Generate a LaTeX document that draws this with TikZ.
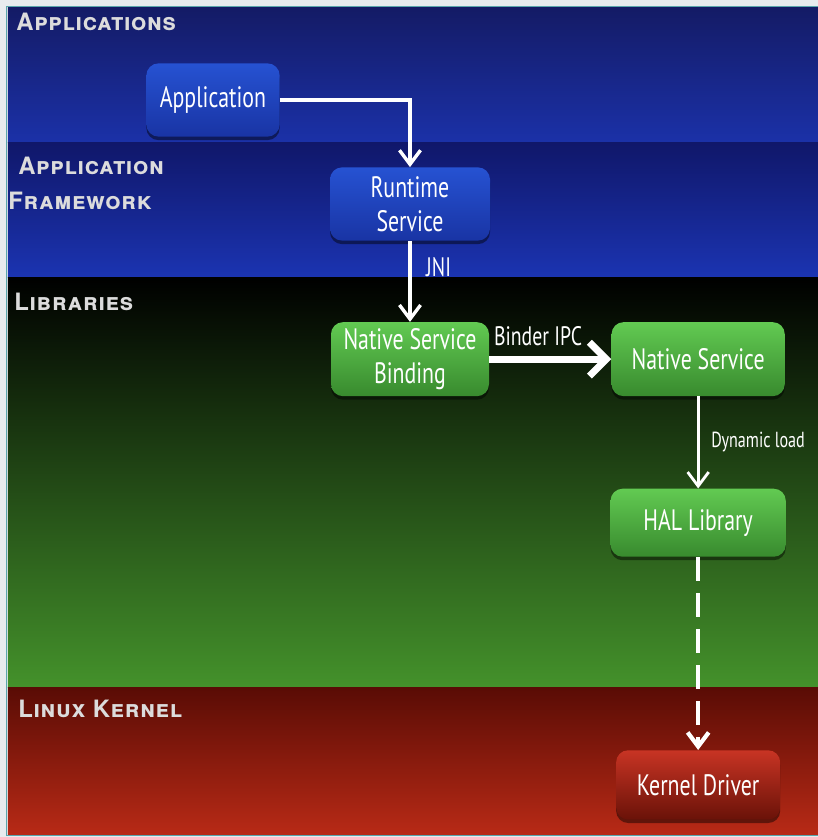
\documentclass[tikz,border=0pt]{standalone}
\usepackage{fontspec}
\setmainfont{PT Sans}
\newfontfamily\boxfont[FakeStretch=0.74]{PT Sans}
\newfontfamily\layerfont[LetterSpace=3]{TeX Gyre Heros}
\usetikzlibrary{arrows.meta,positioning,shadows}

\definecolor{pagegray}{HTML}{E8EBEE}
\definecolor{frameline}{HTML}{5AA6AC}
\definecolor{appTop}{HTML}{141B66}
\definecolor{appBot}{HTML}{1B31A8}
\definecolor{fwTop}{HTML}{10176A}
\definecolor{fwBot}{HTML}{1B34B2}
\definecolor{libMid}{HTML}{1D4612}
\definecolor{libBot}{HTML}{44922B}
\definecolor{kerTop}{HTML}{5A0C05}
\definecolor{kerBot}{HTML}{B82A16}
\definecolor{blueHi}{HTML}{2652D2}
\definecolor{blueLo}{HTML}{1934A4}
\definecolor{greenHi}{HTML}{62CA52}
\definecolor{greenLo}{HTML}{388A2E}
\definecolor{redHi}{HTML}{C83424}
\definecolor{redLo}{HTML}{6A1208}
\definecolor{layertext}{HTML}{DCDCDC}

\begin{document}
\begin{tikzpicture}[>={Straight Barb[length=10pt,width=15pt]}, node distance=2cm,
	box/.style={rounded corners=0.3cm, text=white, align=center, inner sep=2pt,
		font=\boxfont\fontsize{21}{24}\selectfont, minimum height=1.83cm,
		drop shadow={shadow xshift=0pt, shadow yshift=-2.5pt, opacity=0.45, fill=black}},
	bluebox/.style={box, top color=blueHi, bottom color=blueLo},
	greenbox/.style={box, top color=greenHi, bottom color=greenLo, minimum height=1.85cm},
	redbox/.style={box, top color=redHi, bottom color=redLo},
	layer/.style={anchor=north west, inner sep=0pt, align=left, text=layertext,
		font=\layerfont\bfseries\fontsize{17}{25}\selectfont},
	tag/.style={text=white, font=\boxfont\fontsize{19}{21}\selectfont},
	link/.style={draw=white, line width=2.4pt}]
	\useasboundingbox (0,0) rectangle (20.45,20.925);
	\fill[pagegray] (0,0) rectangle (20.45,20.925);
	\draw[frameline, line width=0.8pt] (0.16,0.03) rectangle (20.8,20.76);

	% layer bands
	\shade[top color=appTop, bottom color=appBot] (0.2,17.35) rectangle (20.45,20.725);
	\shade[top color=fwTop, bottom color=fwBot] (0.2,13.975) rectangle (20.45,17.35);
	\shade[top color=black, middle color=libMid, bottom color=libBot] (0.2,3.725) rectangle (20.45,13.975);
	\shade[top color=kerTop, bottom color=kerBot] (0.2,0.06) rectangle (20.45,3.725);

	\node[layer] (lapp) at (0.4,20.6) {\textsc{Applications}};
	\node[layer] (lfw) at (0.2,17.0) {\hspace{0.25cm}\textsc{Application}\\\textsc{Framework}};
	\node[layer] (llib) at (0.35,13.6) {\textsc{Libraries}};
	\node[layer] (lker) at (0.45,3.42) {\textsc{Linux Kernel}};

	% components
	\node[bluebox, minimum width=3.33cm] (app) at (5.325,18.425) {Application};
	\node[bluebox, minimum width=4cm] (rt) at (10.25,15.825) {Runtime\\Service};
	\node[greenbox, minimum width=3.95cm] (nsb) [below=2.025cm of rt] {Native Service\\Binding};
	\node[greenbox, minimum width=4.33cm] (ns) [right=3.05cm of nsb] {Native Service};
	\node[greenbox, minimum width=4.38cm, minimum height=1.7cm] (hal) [below=2.3cm of ns] {HAL Library};
	\node[redbox, minimum width=4.1cm, minimum height=1.73cm] (kd) [below=4.825cm of hal] {Kernel Driver};

	\draw[link,->] (app.east) -| (rt.north);
	\path[->]
	(rt) edge [link] node [tag, right=7pt, pos=0.32] {JNI} (nsb)

	(nsb) edge [link, line width=5pt, >={Straight Barb[length=12pt,width=24pt]}] node [tag, above=4pt, pos=0.4] {Binder IPC} (ns)

	(ns) edge [link, line width=2pt] node [tag, right=5pt, font=\boxfont\fontsize{15.5}{18}\selectfont] {Dynamic load} (hal)

	(hal) edge [link, line width=3pt, dash pattern=on 0.6cm off 0.3cm] (kd)
	;
\end{tikzpicture}
\end{document}
